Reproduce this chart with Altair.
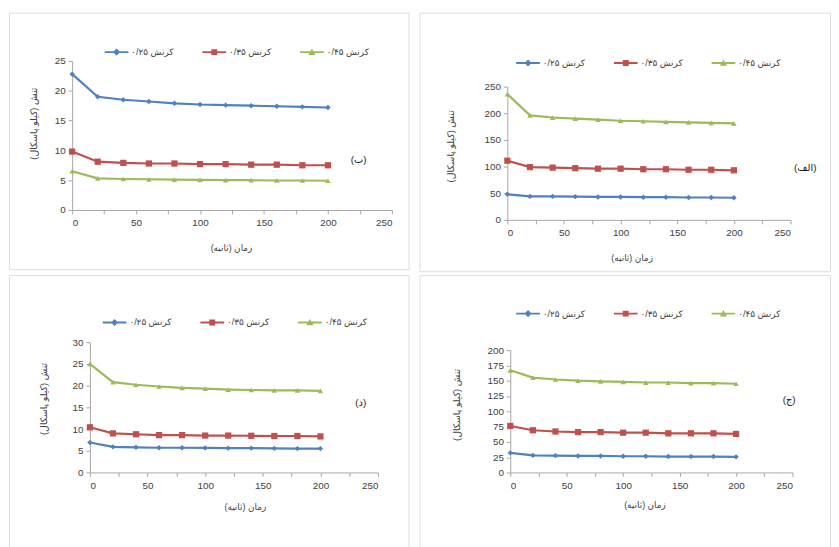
import altair as alt
import pandas as pd

# ---------------- data ----------------
time_s = [0, 20, 40, 60, 80, 100, 120, 140, 160, 180, 200]
series_names = ["کرنش ۰/۲۵", "کرنش ۰/۳۵", "کرنش ۰/۴۵"]
series_colors = ["#4F81BD", "#C0504D", "#9BBB59"]
marker_shapes = ["diamond", "square", "triangle-up"]
marker_sizes = [30, 40, 30]

# panel (ب) top-left
b_blue = [22.8, 19.0, 18.5, 18.2, 17.9, 17.7, 17.6, 17.5, 17.4, 17.3, 17.2]
b_red = [9.8, 8.1, 7.9, 7.8, 7.8, 7.7, 7.7, 7.6, 7.6, 7.5, 7.5]
b_green = [6.5, 5.3, 5.2, 5.15, 5.1, 5.05, 5.0, 5.0, 4.95, 4.95, 4.9]

# panel (الف) top-right
a_blue = [48, 44, 44, 43.5, 43, 43, 42.5, 42.5, 42, 42, 41.5]
a_red = [111, 99, 98, 97, 96, 96, 95, 95, 94, 94, 93]
a_green = [236, 196, 192, 190, 188, 186, 185, 184, 183, 182, 181]

# panel (د) bottom-left
d_blue = [6.9, 5.9, 5.8, 5.7, 5.7, 5.65, 5.6, 5.6, 5.55, 5.5, 5.5]
d_red = [10.4, 9.0, 8.8, 8.6, 8.6, 8.5, 8.5, 8.45, 8.4, 8.4, 8.3]
d_green = [25.0, 20.8, 20.2, 19.8, 19.5, 19.3, 19.1, 19.0, 18.9, 18.9, 18.8]

# panel (ج) bottom-right
j_blue = [32, 28, 27.5, 27, 27, 26.5, 26.5, 26, 26, 26, 25.5]
j_red = [76, 69, 67, 66, 66, 65, 65, 64, 64, 64, 63]
j_green = [167, 155, 152, 150, 149, 148, 147, 147, 146, 146, 145]

panel_labels = ["(ب)", "(الف)", "(د)", "(ج)"]
y_title = "تنش (کیلو پاسکال)"
x_title = "زمان (ثانیه)"

# ---------------- layout (pixels, relative to each panel box) ----------------
layout = {
    "b": dict(W=405, H=260, px=(64, 388), py=(49, 200), ymax=25, ystep=5,
              leg=(97, 28), ytitle=(-39, 112), xtitle=(225, 38), lab=(224, 8.3)),
    "a": dict(W=416, H=262, px=(89, 376), py=(75, 210), ymax=250, ystep=50,
              leg=(98, 39), ytitle=(-58, 135), xtitle=(215, 38), lab=(263, 98)),
    "d": dict(W=405, H=283, px=(82, 374), py=(68, 200), ymax=30, ystep=5,
              leg=(95, 36), ytitle=(-47, 125), xtitle=(239, 35), lab=(235, 15.9)),
    "j": dict(W=416, H=283, px=(92, 378), py=(76, 200), ymax=200, ystep=25,
              leg=(98, 27), ytitle=(-54, 131), xtitle=(228, 32), lab=(247, 119)),
}

# legend symbols: short line with the series marker in the middle (all filled parts)
legend_paths = [
    "M-1,-0.08H1V0.08H-1ZM0,-0.3L0.3,0L0,0.3L-0.3,0Z",
    "M-1,-0.08H1V0.08H-1ZM-0.25,-0.25H0.25V0.25H-0.25Z",
    "M-1,-0.08H1V0.08H-1ZM0,-0.3L0.3,0.24H-0.3Z",
]

FONT = "Liberation Sans, DejaVu Sans"
AX = "#a6a6a6"
TXT = "#404040"


def make_panel(blue, red, green, label, g):
    rows = []
    for name, vals in zip(series_names, [blue, red, green]):
        for t, v in zip(time_s, vals):
            rows.append({"t": t, "v": v, "s": name})
    df = pd.DataFrame(rows)

    x = alt.X("t:Q", scale=alt.Scale(domain=[0, 250], range=list(g["px"]), nice=False),
              axis=alt.Axis(values=list(range(0, 251, 25)),
                            labelExpr="datum.value % 50 == 0 ? datum.label : ''",
                            offset=-(g["H"] - g["py"][1]),
                            title=x_title, titleX=g["xtitle"][0], titleY=g["xtitle"][1],
                            titleBaseline="middle", titleAlign="center", titleFontSize=9,
                            titleFontWeight="normal", titleColor=TXT,
                            labelFontSize=10, labelColor=TXT, labelOverlap=False,
                            labelPadding=4, domainColor=AX, tickColor=AX,
                            tickSize=4, grid=False, labelFont=FONT, titleFont=FONT))
    y = alt.Y("v:Q", scale=alt.Scale(domain=[0, g["ymax"]], range=[g["py"][1], g["py"][0]],
                                     nice=False),
              axis=alt.Axis(values=list(range(0, g["ymax"] + 1, g["ystep"])),
                            offset=-g["px"][0],
                            title=y_title, titleX=g["ytitle"][0], titleY=g["ytitle"][1],
                            titleBaseline="middle", titleAlign="center", titleAngle=270,
                            titleFontSize=9.5, titleFontWeight="normal", titleColor=TXT,
                            labelFontSize=10, labelColor=TXT, labelOverlap=False,
                            labelPadding=3, domainColor=AX, tickColor=AX,
                            tickSize=4, grid=False, labelFont=FONT, titleFont=FONT))

    base = alt.Chart(df)
    layers = []
    for name, col, shp, sz in zip(series_names, series_colors, marker_shapes, marker_sizes):
        sub = base.transform_filter(alt.datum.s == name)
        layers.append(sub.mark_line(strokeWidth=2.2, color=col).encode(x=x, y=y))
        layers.append(sub.mark_point(filled=True, size=sz, opacity=1, shape=shp,
                                     color=col).encode(x=x, y=y))

    leg = alt.Legend(title=None, orient="none", direction="horizontal",
                     legendX=g["leg"][0], legendY=g["leg"][1],
                     symbolSize=576, symbolStrokeWidth=0, symbolOpacity=1,
                     labelFontSize=9, labelColor=TXT, labelFont=FONT, labelOffset=3,
                     columnPadding=29, padding=0, gridAlign="all")
    legend_layer = base.mark_point(filled=True, opacity=0, size=1).encode(
        x=x, y=y,
        color=alt.Color("s:N", scale=alt.Scale(domain=series_names, range=series_colors),
                        legend=leg),
        shape=alt.Shape("s:N", scale=alt.Scale(domain=series_names, range=legend_paths),
                        legend=leg),
    )
    layers.append(legend_layer)

    lab_df = pd.DataFrame({"t": [g["lab"][0]], "v": [g["lab"][1]], "k": [label]})
    layers.append(alt.Chart(lab_df).mark_text(fontSize=10, color="#202020", font=FONT)
                  .encode(x=x, y=y, text="k:N"))

    return alt.layer(*layers).properties(width=g["W"], height=g["H"])


def indep(c):
    return c.resolve_scale(x="independent", y="independent", color="independent",
                           shape="independent").resolve_legend(
        color="independent", shape="independent")


p_b = make_panel(b_blue, b_red, b_green, panel_labels[0], layout["b"])
p_a = make_panel(a_blue, a_red, a_green, panel_labels[1], layout["a"])
p_d = make_panel(d_blue, d_red, d_green, panel_labels[2], layout["d"])
p_j = make_panel(j_blue, j_red, j_green, panel_labels[3], layout["j"])

chart = indep(alt.vconcat(
    indep(alt.hconcat(p_b, p_a, spacing=9)),
    indep(alt.hconcat(p_d, p_j, spacing=9)),
    spacing=2,
)).properties(padding=0, background="white").configure_view(
    stroke="#c8c8c8", strokeWidth=1).configure(font=FONT)

chart.save("out.html", embed_options={"renderer": "svg", "actions": False})
